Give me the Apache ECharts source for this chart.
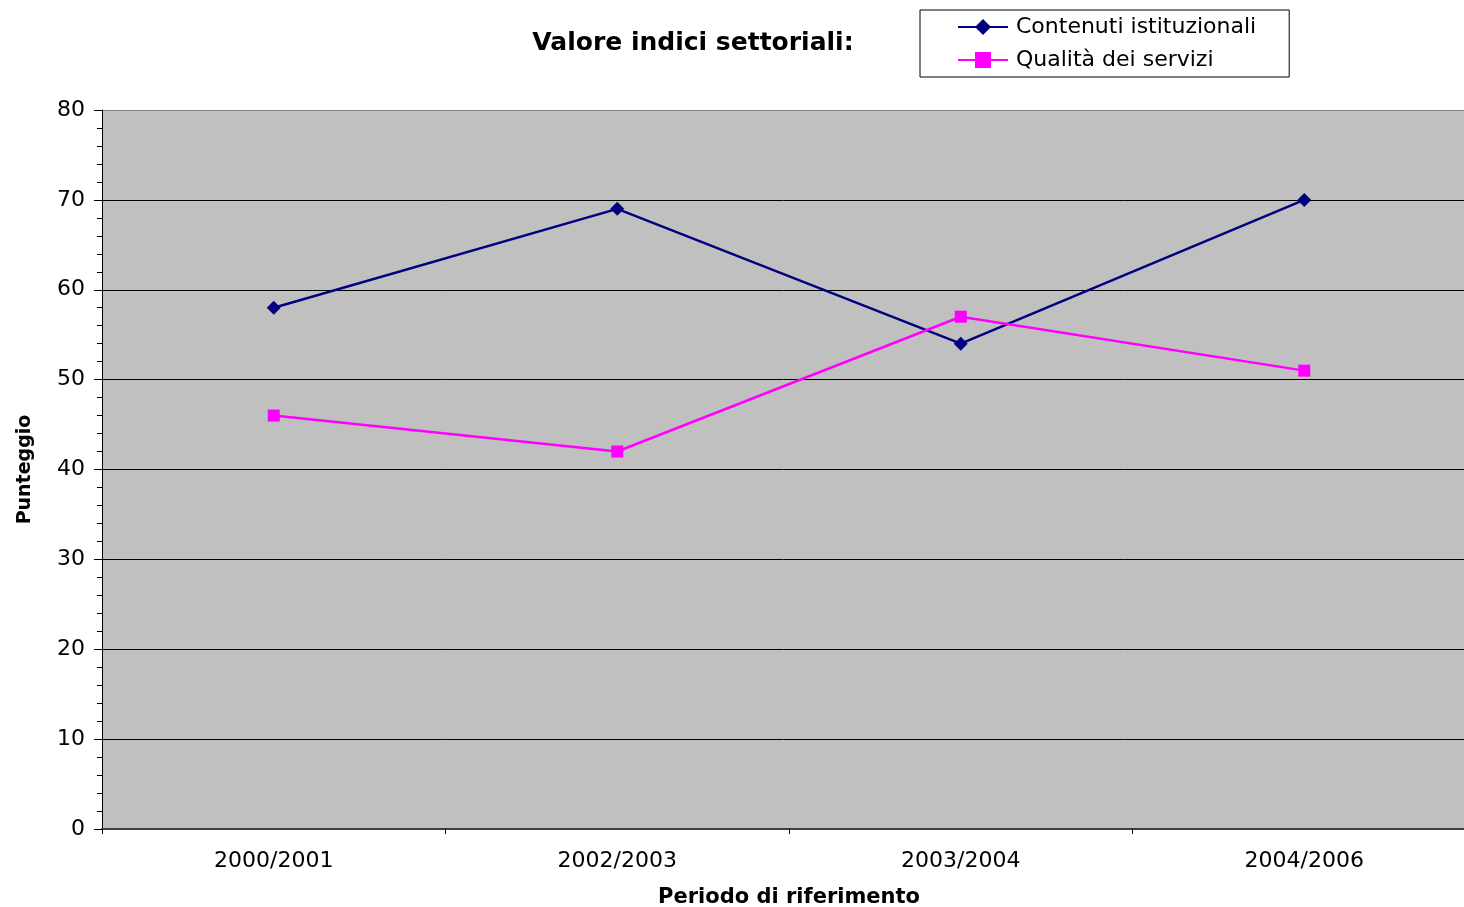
<!DOCTYPE html>
<html>
<head>
<meta charset="utf-8">
<script src="https://cdn.jsdelivr.net/npm/echarts@6/dist/echarts.min.js"></script>
<style>
html,body{margin:0;padding:0;background:#fff;overflow:hidden;}
#c{width:1464px;height:907px;}
</style>
</head>
<body>
<div id="c"></div>
<script>
const categories = ['2000/2001', '2002/2003', '2003/2004', '2004/2006'];
const contenuti = [58, 69, 54, 70];
const qualita = [46, 42, 57, 51];
const seriesNames = ['Contenuti istituzionali', 'Qualità dei servizi'];

const FONT = 'DejaVu Sans, Arial, sans-serif';
const chart = echarts.init(document.getElementById('c'), null, {renderer: 'canvas'});
chart.setOption({
  animation: false,
  backgroundColor: '#fff',
  title: {
    text: 'Valore indici settoriali:',
    left: 693, top: 31, textAlign: 'center', padding: 0,
    textStyle: {fontFamily: FONT, fontSize: 25, fontWeight: 'bold', color: '#000'}
  },
  legend: {
    orient: 'vertical',
    left: 920, top: 10,
    padding: [5, 33, 5, 37],
    borderColor: '#000', borderWidth: 1,
    itemWidth: 50, itemHeight: 20, itemGap: 9,
    textStyle: {fontFamily: FONT, fontSize: 22, color: '#000', lineHeight: 24, padding: [0, 0, 0, 3]},
    data: seriesNames
  },
  grid: {left: 102, right: -12, top: 110, bottom: 78, show: true, backgroundColor: '#c0c0c0', borderWidth: 0, outerBoundsMode: 'none', containLabel: false},
  xAxis: {
    type: 'category', data: categories, boundaryGap: true,
    name: 'Periodo di riferimento', nameLocation: 'middle', nameGap: 58,
    nameTextStyle: {fontFamily: FONT, fontSize: 21, fontWeight: 'bold', color: '#000'},
    axisLine: {lineStyle: {color: '#404040', width: 2}},
    axisTick: {show: true, length: 5, alignWithLabel: false, lineStyle: {color: '#000'}},
    axisLabel: {fontFamily: FONT, fontSize: 22, color: '#000', margin: 21}
  },
  yAxis: {
    type: 'value', min: 0, max: 80, interval: 10,
    name: 'Punteggio', nameLocation: 'middle', nameGap: 67,
    nameTextStyle: {fontFamily: FONT, fontSize: 19, fontWeight: 'bold', color: '#000'},
    axisLine: {show: true, lineStyle: {color: '#000', width: 1}},
    axisTick: {show: true, length: 8, lineStyle: {color: '#000'}},
    minorTick: {show: true, splitNumber: 5, length: 5, lineStyle: {color: '#000'}},
    splitLine: {show: true, lineStyle: {color: ['#000', '#000', '#000', '#000', '#000', '#000', '#000', '#000', '#808080'], width: 1}},
    axisLabel: {fontFamily: FONT, fontSize: 22, color: '#000', margin: 17}
  },
  series: [
    {
      name: seriesNames[0], type: 'line', data: contenuti,
      symbol: 'diamond', symbolSize: 14,
      lineStyle: {color: '#000080', width: 2.5},
      itemStyle: {color: '#000080'}
    },
    {
      name: seriesNames[1], type: 'line', data: qualita,
      symbol: 'rect', symbolSize: 12,
      lineStyle: {color: '#ff00ff', width: 2.5},
      itemStyle: {color: '#ff00ff'}
    }
  ]
});
</script>
</body>
</html>
